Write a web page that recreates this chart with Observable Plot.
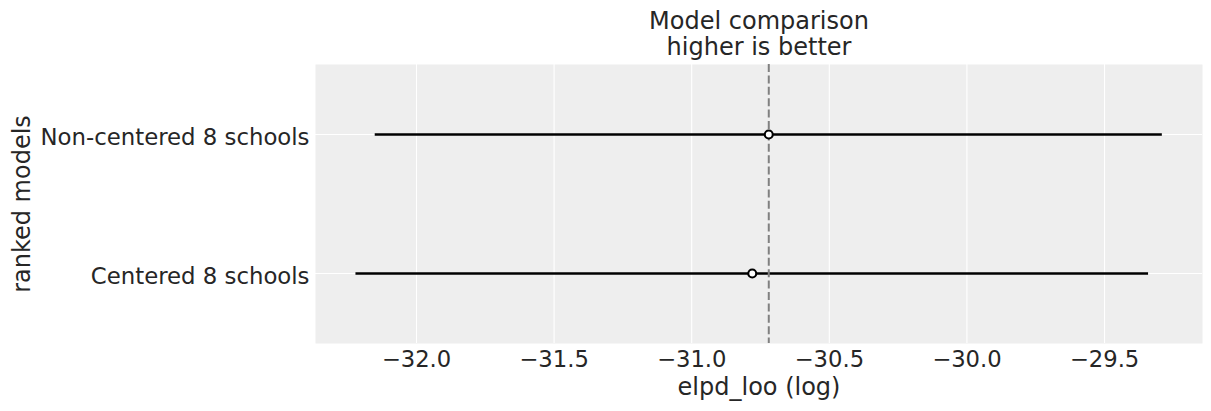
<!DOCTYPE html>
<html>
<head>
<meta charset="utf-8">
<script src="https://cdn.jsdelivr.net/npm/d3@7"></script>
<script src="https://cdn.jsdelivr.net/npm/@observablehq/plot@0.6"></script>
<style>
  html, body { margin: 0; padding: 0; background: white; }
  #chart svg { display: block; }
</style>
</head>
<body>
<div id="chart"></div>
<script>
const models = ["Non-centered 8 schools", "Centered 8 schools"];
const elpd = [-30.72, -30.78];
const se = [1.43, 1.44];
const xTicks = [-32.0, -31.5, -31.0, -30.5, -30.0, -29.5];
const titleLines = ["Model comparison", "higher is better"];
const xLabel = "elpd_loo (log)";
const yLabel = "ranked models";

const rows = models.map((m, i) => ({
  model: m,
  elpd: elpd[i],
  lo: elpd[i] - se[i],
  hi: elpd[i] + se[i]
}));
const best = d3.max(elpd);

const chart = Plot.plot({
  width: 1211,
  height: 411,
  marginLeft: 315,
  marginRight: 9,
  marginTop: 64,
  marginBottom: 68,
  style: { fontFamily: "DejaVu Sans", background: "white", color: "#262626" },
  x: { domain: [-32.367, -29.144] },
  y: { type: "point", domain: models, padding: 0.5 },
  marks: [
    Plot.frame({ fill: "#eeeeee", stroke: null }),
    Plot.gridX(xTicks, { stroke: "white", strokeOpacity: 1, strokeWidth: 1.1 }),
    Plot.gridY(models, { stroke: "white", strokeOpacity: 1, strokeWidth: 1.1 }),
    Plot.axisX(xTicks, {
      tickSize: 0, tickPadding: 7.6, fontSize: 22.7, label: null,
      tickFormat: d3.format(".1f")
    }),
    Plot.axisY({ tickSize: 0, tickPadding: 6, fontSize: 22.8, label: null, dy: 3.5 }),
    Plot.ruleY(rows, { y: "model", x1: "lo", x2: "hi", stroke: "black", strokeWidth: 2.7 }),
    Plot.ruleX([best], { stroke: "#808080", strokeWidth: 2, strokeDasharray: "8,3.4" }),
    Plot.dot(rows, { x: "elpd", y: "model", r: 4, fill: "white", stroke: "black", strokeWidth: 2.1 }),
    Plot.text([titleLines[0]], { text: d => d, frameAnchor: "top", dy: -43.2, fontSize: 24, lineAnchor: "middle", fill: "#262626" }),
    Plot.text([titleLines[1]], { text: d => d, frameAnchor: "top", dy: -17.2, fontSize: 24, lineAnchor: "middle", fill: "#262626" }),
    Plot.text([xLabel], { text: d => d, frameAnchor: "bottom", dy: 44.3, fontSize: 24, lineAnchor: "middle", fill: "#262626" }),
    Plot.text([yLabel], { text: d => d, frameAnchor: "left", dx: -293.4, rotate: -90, fontSize: 24, lineAnchor: "middle", textAnchor: "middle", fill: "#262626" })
  ]
});
document.getElementById("chart").appendChild(chart);
</script>
</body>
</html>
